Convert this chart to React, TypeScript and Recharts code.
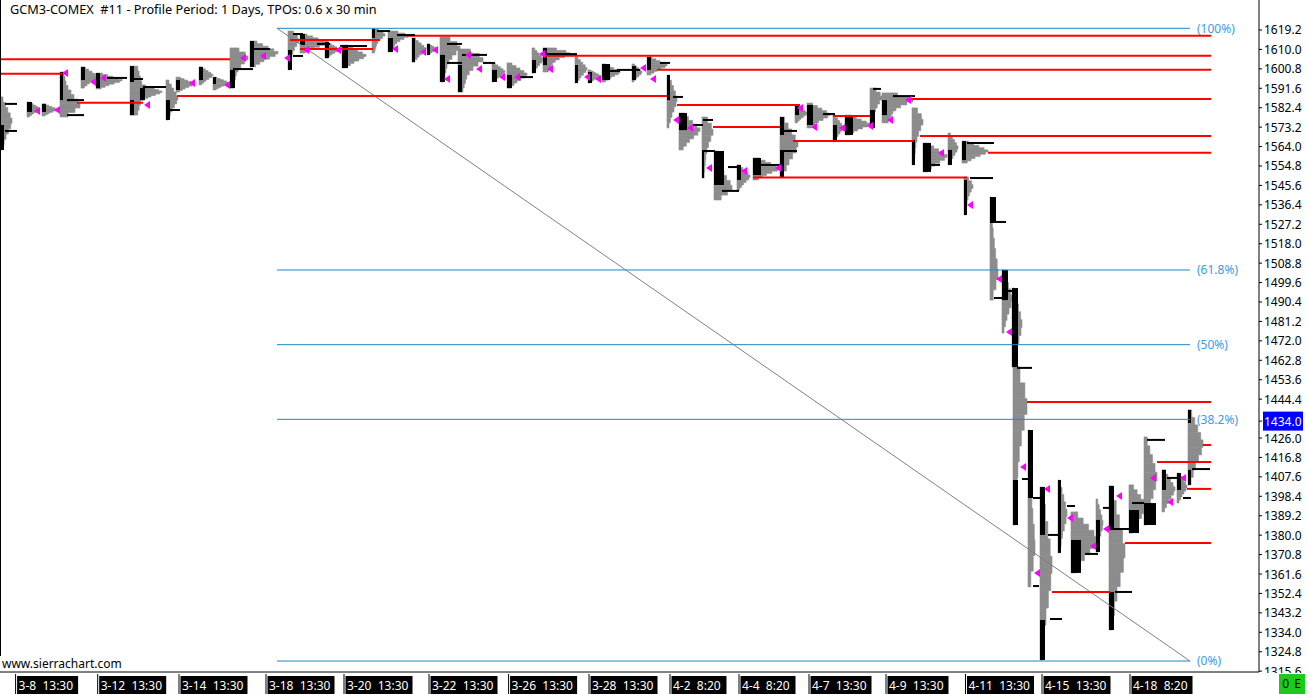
import React from 'react';
import { ComposedChart, XAxis, YAxis, Scatter, ReferenceArea, ReferenceLine } from 'recharts';

const FONT = '"Noto Sans", "Open Sans", sans-serif';
const GRAY = '#8c8c8c';
const RED = '#ff0000';
const FIB = '#1e86c6';
const FIB_TEXT = '#3d9be0';

// right price scale (1435.2 sits under the last-price box)
const priceTicks = [
  1619.2, 1610.0, 1600.8, 1591.6, 1582.4, 1573.2, 1564.0, 1554.8, 1545.6, 1536.4, 1527.2,
  1518.0, 1508.8, 1499.6, 1490.4, 1481.2, 1472.0, 1462.8, 1453.6, 1444.4, 1434.0, 1426.0,
  1416.8, 1407.6, 1398.4, 1389.2, 1380.0, 1370.8, 1361.6, 1352.4, 1343.2, 1334.0, 1324.8, 1315.6,
];
const lastPrice = 1434.0;

// bottom date scale, positions in bar units
const dateTickX = [15.6, 97.7, 179, 266, 344, 429, 508.6, 589, 670, 739, 809, 886, 965.5, 1042, 1130];
const dateLabels = [
  '3-8  13:30', '3-12  13:30', '3-14  13:30', '3-18  13:30', '3-20  13:30', '3-22  13:30',
  '3-26  13:30', '3-28  13:30', '4-2  8:20', '4-4  8:20', '4-7  13:30', '4-9  13:30',
  '4-11  13:30', '4-15  13:30', '4-18  8:20',
];

// fibonacci retracement anchors
const fibHigh = 1620.0;
const fibLow = 1320.4;
const fibStartX = 277;
const fibEndX = 1190;
const fibRatios = [1, 0.618, 0.5, 0.382, 0];
const fibLabels = ['(100%)', '(61.8%)', '(50%)', '(38.2%)', '(0%)'];

// relative TPO row widths, top to bottom
const shapes: Record<string, number[]> = {
  c: [0.25, 0.45, 0.65, 0.85, 1, 0.9, 0.7, 0.5, 0.35, 0.2],
  u: [0.5, 0.85, 1, 0.8, 0.6, 0.45, 0.35, 0.3, 0.25, 0.2],
  l: [0.2, 0.25, 0.3, 0.4, 0.55, 0.7, 0.9, 1, 0.75, 0.4],
  n: [0.6, 0.7, 0.8, 0.9, 1, 1, 0.9, 0.8, 0.7, 0.6],
};

// [startBar, maxWidth, high, low, shape]
const profiles: [number, number, number, number, string][] = [
  [0, 12, 1587.5, 1562.4, 'c'], [27, 13, 1585.1, 1578.0, 'c'], [42, 15, 1584.2, 1578.5, 'c'],
  [60, 20, 1599.3, 1578.0, 'l'], [81, 17, 1601.7, 1591.7, 'c'], [96, 26, 1598.8, 1591.3, 'c'],
  [130, 13, 1602.1, 1578.9, 'n'], [140, 22, 1593.2, 1586.0, 'c'], [166, 12, 1595.5, 1576.6, 'c'],
  [176, 18, 1596.9, 1589.8, 'c'], [199, 14, 1601.7, 1593.2, 'c'], [213, 16, 1596.9, 1590.8, 'c'],
  [230, 18, 1610.7, 1591.7, 'u'], [250, 28, 1614.0, 1601.7, 'c'], [288, 11, 1618.7, 1600.3, 'u'],
  [300, 28, 1617.3, 1608.3, 'c'], [325, 14, 1613.5, 1605.9, 'c'], [342, 24, 1612.1, 1601.2, 'c'],
  [372, 13, 1619.7, 1608.3, 'u'], [388, 20, 1618.7, 1608.8, 'u'], [412, 14, 1615.4, 1604.0, 'c'],
  [427, 10, 1612.6, 1607.4, 'c'], [440, 20, 1615.9, 1594.6, 'u'], [458, 25, 1610.2, 1589.8, 'u'],
  [492, 13, 1603.6, 1594.6, 'c'], [507, 20, 1603.6, 1591.7, 'c'], [532, 11, 1610.7, 1598.8, 'c'],
  [543, 27, 1610.7, 1599.3, 'u'], [575, 12, 1606.4, 1594.1, 'c'], [588, 12, 1600.3, 1594.1, 'c'],
  [602, 18, 1603.1, 1594.6, 'c'], [632, 10, 1603.1, 1594.6, 'c'], [647, 20, 1606.4, 1597.9, 'c'],
  [667, 10, 1597.9, 1572.8, 'c'], [679, 21, 1579.9, 1562.4, 'c'], [702, 11, 1578.0, 1549.1, 'u'],
  [714, 18, 1561.9, 1538.7, 'l'], [737, 13, 1555.3, 1543.4, 'c'], [753, 27, 1558.6, 1548.2, 'c'],
  [780, 18, 1578.0, 1549.6, 'c'], [795, 12, 1583.7, 1575.2, 'c'], [807, 23, 1584.6, 1572.8, 'c'],
  [833, 10, 1578.9, 1566.2, 'c'], [845, 25, 1578.9, 1569.5, 'c'], [870, 12, 1591.7, 1572.8, 'u'],
  [882, 31, 1589.4, 1575.2, 'u'], [912, 11, 1582.3, 1555.3, 'u'], [923, 24, 1565.7, 1552.0, 'c'],
  [948, 10, 1570.4, 1555.3, 'c'], [962, 26, 1566.6, 1556.2, 'c'], [964, 9, 1549.6, 1531.6, 'u'],
  [990, 8, 1540.1, 1491.3, 'l'], [1002, 10, 1505.6, 1475.7, 'c'], [1012, 10, 1497.0, 1459.6, 'c'],
  [1013, 14, 1459.6, 1384.8, 'u'], [1028, 7, 1429.8, 1355.5, 'l'], [1040, 12, 1402.8, 1320.9, 'c'],
  [1058, 9, 1406.1, 1371.6, 'c'], [1071, 27, 1391.0, 1362.1, 'c'], [1096, 7, 1397.1, 1372.0, 'c'],
  [1109, 16, 1403.3, 1335.1, 'c'], [1129, 18, 1403.8, 1381.0, 'c'], [1144, 13, 1426.5, 1384.8, 'c'],
  [1162, 13, 1410.9, 1391.0, 'c'], [1177, 10, 1409.4, 1395.2, 'c'], [1188, 15, 1439.3, 1403.8, 'c'],
];

// early-period TPO columns drawn in black: [startBar, width, high, low]
const darkBlocks: [number, number, number, number][] = [
  [0, 4, 1574.2, 1562.4], [27, 5, 1585.1, 1580.4], [42, 4, 1584.2, 1580.4], [60, 3, 1599.3, 1586.0],
  [81, 4, 1601.7, 1595.5], [96, 4, 1598.8, 1591.7], [130, 4, 1602.1, 1594.6], [130, 4, 1586.0, 1578.9],
  [140, 5, 1591.7, 1586.0], [166, 4, 1586.0, 1576.6], [176, 4, 1595.5, 1590.8], [199, 4, 1601.7, 1595.5],
  [213, 3, 1596.9, 1593.6], [230, 5, 1600.3, 1591.7], [250, 4, 1614.0, 1601.7], [288, 4, 1609.7, 1600.3],
  [300, 5, 1617.3, 1612.1], [325, 4, 1613.5, 1605.9], [342, 6, 1612.1, 1601.2], [372, 3, 1619.7, 1615.4],
  [388, 5, 1615.4, 1608.8], [412, 3, 1615.4, 1604.0], [427, 3, 1612.6, 1607.4], [440, 5, 1607.4, 1594.6],
  [458, 4, 1602.6, 1589.8], [492, 5, 1600.3, 1594.6], [507, 5, 1597.9, 1591.7], [532, 4, 1605.0, 1598.8],
  [543, 4, 1610.7, 1602.6], [575, 3, 1602.6, 1594.1], [588, 4, 1599.3, 1594.1], [602, 8, 1603.1, 1595.5],
  [632, 4, 1602.1, 1595.5], [647, 4, 1606.4, 1600.3], [667, 3, 1597.9, 1586.0], [679, 8, 1579.9, 1571.8],
  [702, 2, 1562.4, 1549.1], [714, 10, 1561.9, 1545.8], [737, 4, 1555.3, 1548.2], [753, 8, 1558.6, 1550.5],
  [780, 4, 1578.0, 1569.5], [780, 4, 1562.4, 1549.6], [795, 4, 1583.7, 1578.9], [807, 6, 1583.7, 1574.2],
  [833, 4, 1574.2, 1566.2], [845, 8, 1578.9, 1569.5], [870, 5, 1581.3, 1572.8], [882, 5, 1586.0, 1578.9],
  [912, 3, 1567.1, 1555.3], [923, 8, 1565.7, 1552.0], [948, 4, 1562.4, 1555.3], [962, 4, 1566.6, 1557.6],
  [964, 3, 1548.2, 1531.6], [990, 6, 1540.1, 1527.8], [1002, 6, 1505.6, 1491.3], [1012, 6, 1497.0, 1459.6],
  [1013, 5, 1406.1, 1384.8], [1028, 5, 1429.8, 1397.6], [1040, 5, 1402.8, 1380.1], [1040, 5, 1339.8, 1320.9],
  [1058, 3, 1406.1, 1371.6], [1071, 10, 1377.7, 1362.1], [1096, 4, 1387.2, 1372.0], [1109, 5, 1403.3, 1382.4],
  [1109, 5, 1353.1, 1335.1], [1129, 10, 1391.9, 1381.0], [1144, 12, 1395.2, 1384.8], [1162, 4, 1410.9, 1401.4],
  [1177, 4, 1409.4, 1401.4], [1188, 3, 1439.3, 1433.1], [1188, 3, 1410.9, 1403.8],
];

// naked / extended POC lines: [fromBar, toBar, price]
const pocLines: [number, number, number][] = [
  [0, 230, 1605.3], [0, 62, 1598.5], [77, 143, 1584.8], [177, 667, 1587.9], [290, 380, 1614.5],
  [300, 373, 1610.2], [407, 1211, 1616.5], [545, 1211, 1607.0], [657, 1211, 1600.4], [677, 800, 1583.7],
  [907, 1211, 1586.5], [833, 870, 1578.5], [713, 780, 1573.3], [793, 913, 1566.6], [920, 1211, 1569.0],
  [988, 1211, 1561.1], [753, 967, 1549.3], [1027, 1211, 1443.1], [1157, 1211, 1414.6], [1187, 1211, 1401.9],
  [1125, 1211, 1376.3], [1052, 1110, 1353.1], [1203, 1211, 1422.7],
];

// short black open/close markers: [fromBar, length, price]
const markers: [number, number, number][] = [
  [5, 12, 1584.2], [5, 12, 1571.4], [67, 17, 1586.0], [67, 17, 1578.9], [107, 20, 1596.5], [133, 10, 1596.0],
  [143, 23, 1592.2], [167, 13, 1581.3], [233, 20, 1600.7], [253, 17, 1610.2], [293, 10, 1617.3], [293, 10, 1606.9],
  [317, 13, 1612.6], [340, 27, 1611.6], [377, 13, 1618.7], [397, 18, 1616.8], [447, 15, 1612.6], [447, 15, 1603.6],
  [462, 25, 1607.4], [483, 12, 1603.6], [520, 13, 1596.9], [547, 30, 1607.8], [602, 18, 1599.8], [617, 23, 1600.3],
  [660, 10, 1603.6], [673, 10, 1587.5], [693, 10, 1574.2], [703, 10, 1576.6], [703, 12, 1561.9], [728, 11, 1554.3],
  [722, 17, 1543.0], [757, 23, 1555.3], [783, 14, 1571.4], [783, 14, 1561.9], [823, 12, 1579.4], [873, 8, 1591.3],
  [893, 22, 1587.9], [925, 15, 1555.3], [967, 27, 1565.7], [970, 23, 1549.1], [995, 11, 1528.3], [994, 9, 1492.3],
  [1007, 8, 1495.6], [1017, 15, 1459.2], [1022, 7, 1406.6], [1033, 11, 1397.6], [1033, 6, 1355.9], [1048, 12, 1380.1],
  [1050, 12, 1340.3], [1067, 8, 1393.8], [1085, 13, 1371.1], [1103, 10, 1392.9], [1115, 17, 1353.1], [1113, 18, 1382.9],
  [1132, 12, 1395.2], [1147, 18, 1425.1], [1167, 12, 1407.1], [1183, 8, 1397.6], [1192, 18, 1411.3],
];

// magenta close arrows: [bar, price]
const closeArrows: [number, number][] = [
  [65, 1598.8], [37, 1580.8], [57, 1581.3], [93, 1594.6], [103, 1596.5], [147, 1583.7], [192, 1594.1],
  [227, 1593.2], [243, 1605.9], [263, 1606.9], [287, 1605.9], [306, 1609.7], [338, 1609.7], [395, 1610.2],
  [423, 1608.8], [435, 1609.7], [447, 1596.0], [468, 1607.4], [479, 1600.7], [502, 1596.9], [517, 1596.9],
  [542, 1607.8], [550, 1600.7], [587, 1596.9], [598, 1596.0], [643, 1601.2], [653, 1596.0], [676, 1576.6],
  [690, 1572.8], [709, 1553.9], [744, 1552.4], [778, 1553.9], [800, 1582.3], [814, 1573.3], [842, 1572.8],
  [870, 1573.7], [890, 1576.6], [908, 1586.0], [941, 1561.0], [970, 1536.3], [999, 1501.3], [1009, 1476.2],
  [1023, 1412.3], [1037, 1362.1], [1047, 1401.9], [1070, 1388.1], [1093, 1374.9], [1106, 1382.9],
  [1119, 1398.5], [1153, 1407.1], [1170, 1395.7], [1183, 1407.1],
];

const arrowData = closeArrows.map(([x, y]) => ({ x, y }));

const PriceTick = (props: any) => {
  const { x, y, payload } = props;
  const txt = Number(payload.value).toFixed(1);
  if (payload.value === lastPrice) {
    return (
      <g>
        <rect x={x - 1} y={y - 9.5} width={40} height={19} fill="#0000ff" />
        <text x={x} y={y + 4.5} fill="#ffffff" fontSize={12} fontFamily={FONT}>{txt}</text>
      </g>
    );
  }
  return <text x={x} y={y + 4.5} fill="#000000" fontSize={12} fontFamily={FONT}>{txt}</text>;
};

const DateTick = (props: any) => {
  const { x, y, payload } = props;
  const label = dateLabels[dateTickX.indexOf(payload.value)] || '';
  return (
    <g>
      <line x1={x} x2={x} y1={y} y2={y + 22} stroke="#000" />
      <rect x={x + 1.5} y={y + 2} width={label.length * 6 + 1} height={20} fill="#000" />
      <text x={x + 3} y={y + 16} fill="#fff" fontSize={12} fontFamily={FONT} style={{ whiteSpace: 'pre' }}>
        {label}
      </text>
    </g>
  );
};

const Arrow = (props: any) => {
  const { cx, cy } = props;
  return <polygon points={`${cx - 3},${cy} ${cx + 3},${cy - 4} ${cx + 3},${cy + 4}`} fill="#ff00ff" />;
};

export default function App() {
  return (
    <div style={{ position: 'absolute', left: 0, top: 0, width: 1308, height: 694, background: '#fff', overflow: 'hidden', fontFamily: FONT }}>
      <ComposedChart width={1308} height={694} margin={{ top: 0, right: 0, bottom: 0, left: 0 }}>
        <XAxis
          type="number"
          dataKey="x"
          domain={[0, 1259]}
          ticks={dateTickX}
          interval={0}
          allowDataOverflow
          height={22}
          tickSize={0}
          tickLine={false}
          axisLine={{ stroke: '#000' }}
          tick={<DateTick />}
        />
        <YAxis
          type="number"
          dataKey="y"
          orientation="right"
          domain={[1315.2, 1633.4]}
          ticks={priceTicks}
          interval={0}
          allowDataOverflow
          width={49}
          tickSize={3}
          tickMargin={2}
          axisLine={{ stroke: '#000' }}
          tickLine={{ stroke: '#000' }}
          tick={<PriceTick />}
        />

        {fibRatios.map((r, i) => (
          <ReferenceLine
            key={`fib${i}`}
            segment={[{ x: fibStartX, y: fibLow + (fibHigh - fibLow) * r }, { x: fibEndX, y: fibLow + (fibHigh - fibLow) * r }]}
            stroke={FIB}
            strokeWidth={1}
            ifOverflow="visible"
            label={{ value: fibLabels[i], position: 'right', fill: FIB_TEXT, fontSize: 12, fontFamily: FONT, offset: 7 }}
          />
        ))}
        <ReferenceLine
          segment={[{ x: fibStartX, y: fibHigh }, { x: fibEndX, y: fibLow }]}
          stroke="#808080"
          strokeWidth={1}
          ifOverflow="visible"
        />

        {profiles.flatMap(([x, w, hi, lo, s], i) => {
          const rows = shapes[s];
          const step = (hi - lo) / rows.length;
          return rows.map((f, j) => (
            <ReferenceArea
              key={`p${i}-${j}`}
              x1={x}
              x2={x + w * f}
              y1={hi - step * j}
              y2={hi - step * (j + 1)}
              fill={GRAY}
              fillOpacity={1}
              stroke={GRAY}
              strokeWidth={0.6}
              ifOverflow="visible"
            />
          ));
        })}
        {darkBlocks.map(([x, w, hi, lo], i) => (
          <ReferenceArea key={`d${i}`} x1={x} x2={x + w} y1={hi} y2={lo} fill="#000" fillOpacity={1} stroke="none" ifOverflow="visible" />
        ))}

        {pocLines.map(([x1, x2, p], i) => (
          <ReferenceLine key={`poc${i}`} segment={[{ x: x1, y: p }, { x: x2, y: p }]} stroke={RED} strokeWidth={2} ifOverflow="visible" />
        ))}
        {markers.map(([x, len, p], i) => (
          <ReferenceLine key={`m${i}`} segment={[{ x, y: p }, { x: x + len, y: p }]} stroke="#000" strokeWidth={2} ifOverflow="visible" />
        ))}

        <Scatter data={arrowData} shape={<Arrow />} isAnimationActive={false} />
      </ComposedChart>

      <div style={{ position: 'absolute', left: 0, top: 0, width: 1, height: 656, background: '#000' }} />
      <div style={{ position: 'absolute', left: 10, top: 1, fontSize: 12.7, lineHeight: '16px', color: '#000', whiteSpace: 'pre' }}>
        GCM3-COMEX  #11 - Profile Period: 1 Days, TPOs: 0.6 x 30 min
      </div>
      <div style={{ position: 'absolute', left: 2, top: 656, fontSize: 12, lineHeight: '16px', color: '#000' }}>
        www.sierrachart.com
      </div>
      <div style={{ position: 'absolute', left: 1260, top: 673, width: 48, height: 21, background: '#fff' }} />
      <div style={{ position: 'absolute', left: 1279, top: 674, width: 26, height: 20, background: '#1ec81e', color: '#000', fontSize: 12, lineHeight: '20px', textAlign: 'center', letterSpacing: 1 }}>
        0 E
      </div>
    </div>
  );
}
